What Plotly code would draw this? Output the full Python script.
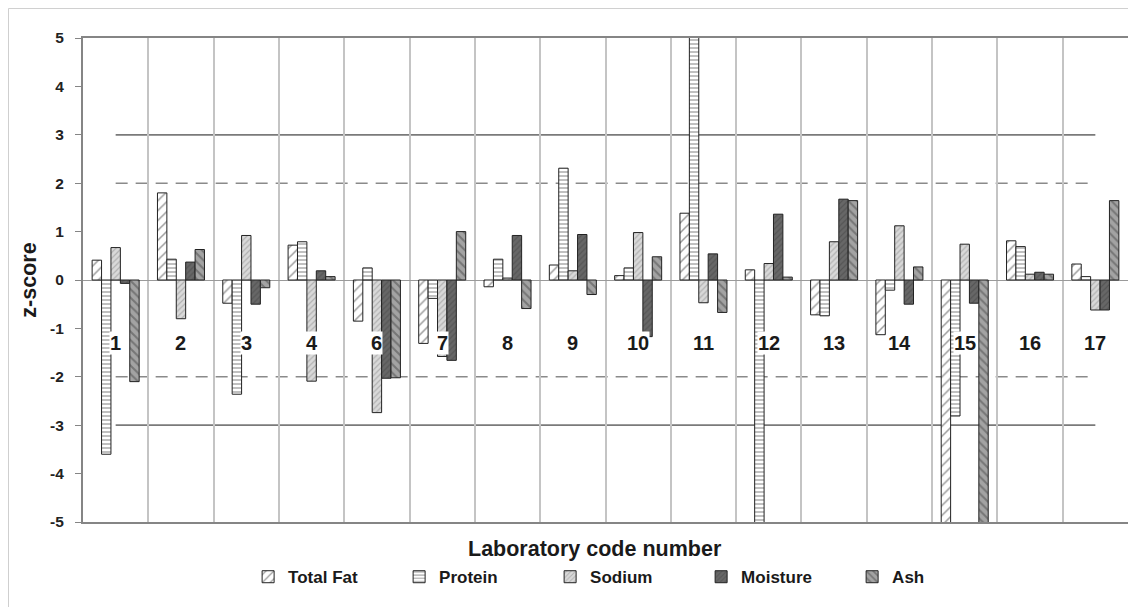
import plotly.graph_objects as go

# ---- data ----
labs = ["1", "2", "3", "4", "6", "7", "8", "9", "10", "11", "12", "13", "14", "15", "16", "17"]
total_fat = [0.41, 1.80, -0.48, 0.72, -0.85, -1.31, -0.14, 0.31, 0.09, 1.38, 0.21, -0.72, -1.13, -6.3, 0.81, 0.33]
protein = [-3.60, 0.43, -2.36, 0.79, 0.25, -0.38, 0.43, 2.31, 0.25, 8.0, -6.0, -0.74, -0.21, -2.81, 0.69, 0.07]
sodium = [0.67, -0.80, 0.92, -2.09, -2.74, -1.58, 0.04, 0.19, 0.98, -0.47, 0.34, 0.79, 1.12, 0.74, 0.12, -0.62]
moisture = [-0.07, 0.37, -0.50, 0.19, -2.03, -1.66, 0.92, 0.94, -1.17, 0.54, 1.36, 1.67, -0.50, -0.48, 0.16, -0.62]
ash = [-2.10, 0.63, -0.16, 0.07, -2.02, 1.00, -0.59, -0.30, 0.48, -0.67, 0.06, 1.64, 0.27, -5.6, 0.12, 1.64]
limit_solid = [3, -3]
limit_dash = [2, -2]
yticks = [-5, -4, -3, -2, -1, 0, 1, 2, 3, 4, 5]
yticktext = [str(t) for t in yticks]

FONT = "Liberation Sans, Arial, sans-serif"

series = [
    ("Total Fat", total_fat, dict(shape="/", fgcolor="#3a3a3a", bgcolor="#ffffff", size=7, solidity=0.22)),
    ("Protein", protein, dict(shape="-", fgcolor="#4a4a4a", bgcolor="#ffffff", size=4, solidity=0.35)),
    ("Sodium", sodium, dict(shape="/", fgcolor="#8a8a8a", bgcolor="#d9d9d9", size=4, solidity=0.3)),
    ("Moisture", moisture, dict(shape="/", fgcolor="#444444", bgcolor="#676767", size=4, solidity=0.3)),
    ("Ash", ash, dict(shape="\\", fgcolor="#4a4a4a", bgcolor="#a3a3a3", size=6, solidity=0.35)),
]

fig = go.Figure()
for name, vals, pat in series:
    fig.add_trace(go.Bar(
        name=name, x=labs, y=vals,
        marker=dict(color=pat["bgcolor"], pattern=pat, line=dict(color="#222222", width=1)),
    ))

# reference limit lines from first to last laboratory centre
for v in limit_solid:
    fig.add_shape(type="line", xref="x", yref="y", x0=0, x1=len(labs) - 1, y0=v, y1=v,
                  line=dict(color="#7a7a7a", width=1.8), layer="below")
for v in limit_dash:
    fig.add_shape(type="line", xref="x", yref="y", x0=0, x1=len(labs) - 1, y0=v, y1=v,
                  line=dict(color="#8a8a8a", width=1.6, dash="12px,8px"), layer="below")

# laboratory labels inside the plot (category index positions)
for i, lab in enumerate(labs):
    fig.add_annotation(x=i, y=-1.3, text=lab, showarrow=False,
                       font=dict(family=FONT, size=20, color="#1a1a1a", weight="bold"),
                       bgcolor="#ffffff", borderpad=0)

# axis titles
fig.add_annotation(xref="paper", yref="paper", x=0.49, y=-0.056, text="Laboratory code number",
                   showarrow=False, font=dict(family=FONT, size=21.5, color="#1a1a1a", weight="bold"),
                   xanchor="center", yanchor="middle")
fig.add_annotation(xref="paper", yref="paper", x=-0.052, y=0.5, text="z-score", textangle=-90,
                   showarrow=False, font=dict(family=FONT, size=21.5, color="#1a1a1a", weight="bold"),
                   xanchor="center", yanchor="middle")

# light outer frame of the picture
fig.add_shape(type="line", xref="paper", yref="paper", x0=-0.0713, x1=-0.0713, y0=-0.3, y1=1.061,
              line=dict(color="#cfcfcf", width=1))
fig.add_shape(type="line", xref="paper", yref="paper", x0=-0.0713, x1=1.1, y0=1.061, y1=1.061,
              line=dict(color="#cfcfcf", width=1))

fig.update_layout(
    width=1128, height=599,
    margin=dict(l=75, r=8, t=30, b=85),
    paper_bgcolor="#ffffff", plot_bgcolor="#ffffff",
    barmode="group", bargap=0.28, bargroupgap=0,
    font=dict(family=FONT, color="#222222"),
    showlegend=True,
    legend=dict(orientation="h", x=0.158, xanchor="left", y=-0.114, yanchor="middle",
                font=dict(family=FONT, size=17, color="#1a1a1a", weight="bold"),
                entrywidth=106, itemwidth=30, traceorder="normal"),
)
fig.update_xaxes(type="category", range=[-0.5, len(labs) - 0.5], showticklabels=False,
                 tickson="boundaries", ticks="", showgrid=True, gridcolor="#c4c4c4", gridwidth=1.5,
                 showline=True, linecolor="#858585", linewidth=2, mirror=True, zeroline=False)
fig.update_yaxes(range=[-5, 5], tickvals=yticks, ticktext=yticktext,
                 tickfont=dict(family=FONT, size=15.5, color="#222222", weight="bold"),
                 ticks="outside", ticklen=6, tickcolor="#858585", ticklabelstandoff=8,
                 showgrid=False, zeroline=True, zerolinecolor="#9a9a9a", zerolinewidth=1,
                 showline=True, linecolor="#858585", linewidth=2, mirror=True, automargin=False)

fig.write_html("out.html")
